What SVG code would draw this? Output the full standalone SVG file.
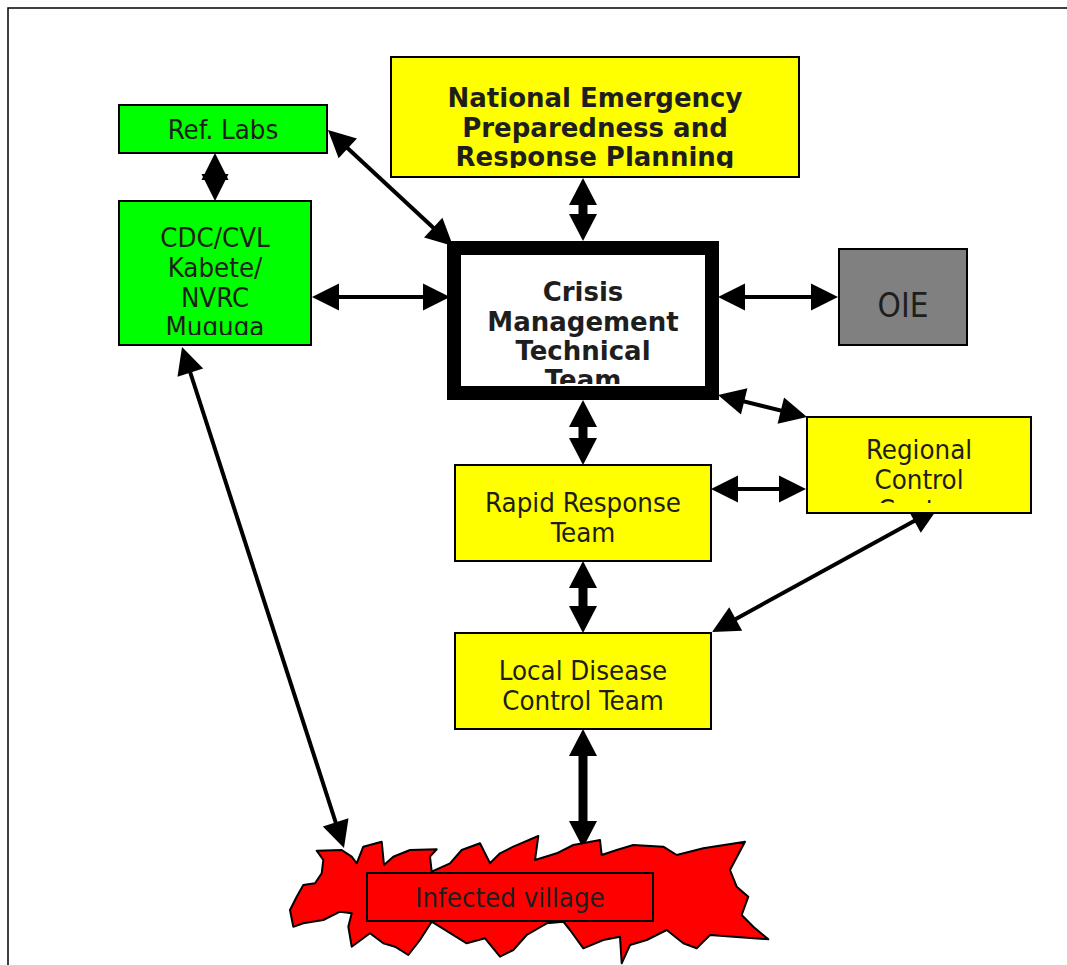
<svg xmlns="http://www.w3.org/2000/svg" width="1067" height="965" viewBox="0 0 1067 965">
<style>
.box{stroke:#000;stroke-width:2}
.t{font-family:"DejaVu Sans Condensed","DejaVu Sans",sans-serif;font-stretch:condensed;font-size:27.4px;fill:#1e1e1e;text-anchor:middle}
.b{font-family:"DejaVu Sans",sans-serif;font-stretch:normal;font-weight:bold;font-size:26px}
.thin{stroke:#000;stroke-width:4;fill:none;marker-start:url(#ha);marker-end:url(#ha)}
.thick{stroke:#000;stroke-width:9;fill:none;marker-start:url(#hb);marker-end:url(#hb)}
</style>
<defs>
<marker id="ha" markerUnits="userSpaceOnUse" markerWidth="27" markerHeight="27" refX="17" refY="13.5" orient="auto-start-reverse" overflow="visible"><path d="M0,0 L27,13.5 L0,27 z" fill="#000"/></marker>
<marker id="hb" markerUnits="userSpaceOnUse" markerWidth="27" markerHeight="28" refX="13" refY="14" orient="auto-start-reverse" overflow="visible"><path d="M0,0 L27,14 L0,28 z" fill="#000"/></marker>
<clipPath id="cNat"><rect x="391" y="57" width="408" height="111"/></clipPath>
<clipPath id="cCri"><rect x="454" y="248" width="258" height="136"/></clipPath>
<clipPath id="cCdc"><rect x="119" y="201" width="192" height="134"/></clipPath>
<clipPath id="cReg"><rect x="807" y="417" width="224" height="86"/></clipPath>
</defs>
<rect x="8" y="8" width="1100" height="1000" fill="#fff" stroke="#000" stroke-width="1.5"/>
<g id="connectors">
<line class="thin" x1="215" y1="163" x2="215" y2="191"/>
<line class="thin" x1="335.3" y1="136.8" x2="445.7" y2="239.2"/>
<line class="thick" x1="583" y1="192" x2="583" y2="227"/>
<line class="thin" x1="322" y1="297" x2="440" y2="297"/>
<line class="thin" x1="728" y1="297" x2="828" y2="297"/>
<line class="thin" x1="727.7" y1="397.4" x2="797.3" y2="414.6"/>
<line class="thick" x1="583" y1="414" x2="583" y2="451"/>
<line class="thin" x1="721" y1="489" x2="796" y2="489"/>
<line class="thick" x1="583" y1="575" x2="583" y2="619"/>
<line class="thin" x1="929.2" y1="512.8" x2="720.8" y2="627.2"/>
<line class="thick" x1="583" y1="743" x2="583" y2="834"/>
<line class="thin" x1="185.1" y1="356.5" x2="340.9" y2="838.5"/>
</g>
<g id="ref-labs">
<rect class="box" x="119" y="105" width="208" height="48" fill="#00ff00"/>
<text class="t" x="223" y="139">Ref. Labs</text>
</g>
<g id="cdc">
<rect class="box" x="119" y="201" width="192" height="144" fill="#00ff00"/>
<g clip-path="url(#cCdc)">
<text class="t" x="215" y="247">CDC/CVL</text>
<text class="t" x="215" y="277">Kabete/</text>
<text class="t" x="215" y="306.5">NVRC</text>
<text class="t" x="215" y="336">Muguga</text>
</g>
</g>
<g id="national">
<rect class="box" x="391" y="57" width="408" height="120" fill="#ffff00"/>
<g clip-path="url(#cNat)">
<text class="t b" x="595" y="107">National Emergency</text>
<text class="t b" x="595" y="137">Preparedness and</text>
<text class="t b" x="595" y="166">Response Planning</text>
</g>
</g>
<g id="crisis">
<rect x="454" y="248" width="258" height="145" fill="#fff" stroke="#000" stroke-width="14"/>
<g clip-path="url(#cCri)">
<text class="t b" x="583" y="301">Crisis</text>
<text class="t b" x="583" y="331">Management</text>
<text class="t b" x="583" y="360">Technical</text>
<text class="t b" x="583" y="389">Team</text>
</g>
</g>
<g id="oie">
<rect class="box" x="839" y="249" width="128" height="96" fill="#808080"/>
<text class="t" x="903" y="317" style="font-size:33px">OIE</text>
</g>
<g id="regional">
<rect class="box" x="807" y="417" width="224" height="96" fill="#ffff00"/>
<g clip-path="url(#cReg)">
<text class="t" x="919" y="459">Regional</text>
<text class="t" x="919" y="489">Control</text>
<text class="t" x="919" y="519">Centre</text>
</g>
</g>
<g id="rapid">
<rect class="box" x="455" y="465" width="256" height="96" fill="#ffff00"/>
<text class="t" x="583" y="512">Rapid Response</text>
<text class="t" x="583" y="542">Team</text>
</g>
<g id="local">
<rect class="box" x="455" y="633" width="256" height="96" fill="#ffff00"/>
<text class="t" x="583" y="680">Local Disease</text>
<text class="t" x="583" y="710">Control Team</text>
</g>
<g id="village">
<path d="M316.7,850.7 L341.7,850 L351.7,856.7 L356.7,863.3 L363.3,846.7 L381.7,841.7 L384,865 L393.3,856.7 L410,850 L436.7,849.3 L430,856.7 L431.7,871.7 L450,863.3 L461.7,850 L480,843.3 L490,863.3 L500,853.3 L513.3,846.7 L538.3,836 L535,860 L556.7,853.3 L573.3,845 L600,840 L601.7,855 L616.7,850 L633.3,845 L663.3,846.7 L676.7,855 L703.3,848.3 L745,841.7 L730,870 L736.7,886.7 L748.3,896.7 L741.7,915 L753.3,926.7 L768.3,939.3 L733.3,936.7 L710,935 L696.7,948.3 L683.3,943.3 L666.7,930 L646.7,940 L630,945 L621.7,963.3 L620,936.7 L603.3,940 L583.3,948.3 L570,930 L563.3,921.7 L546.7,923.3 L526.7,935 L513.3,950 L500,956.7 L485,938.3 L466.7,943.3 L431.7,921.7 L420,940 L408.3,955 L395,946.7 L383.3,943.3 L370,933.3 L351.7,946.7 L348.3,926.7 L351.7,913.3 L340,911.7 L323.3,920 L303.3,923.3 L293.3,926.7 L290,910 L296.7,896.7 L303.3,885 L315,883.3 L321.7,873.3 L323.3,860 Z" fill="#ff0000" stroke="#000" stroke-width="2" stroke-linejoin="round"/>
<rect x="367" y="873" width="286" height="48" fill="none" stroke="#000" stroke-width="2"/>
<text class="t" x="510" y="907">Infected village</text>
</g>
</svg>
